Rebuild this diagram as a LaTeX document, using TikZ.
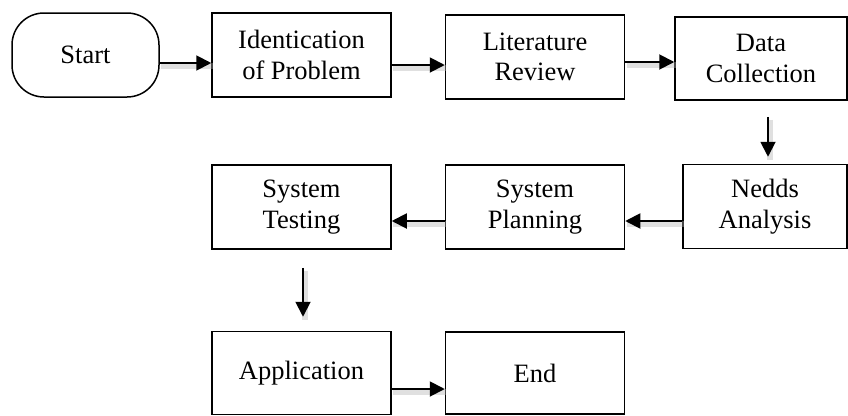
\documentclass[tikz,border=0pt]{standalone}
\usepackage{fontspec}
\setmainfont{Liberation Serif}
\usetikzlibrary{arrows.meta}
\begin{document}
\begin{tikzpicture}[x=1pt,y=-1pt,
  box/.style={draw=black, line width=1.5pt, fill=white, minimum width=179pt, minimum height=84pt,
    align=center, inner sep=0pt, font=\fontsize{26.5}{30.5}\selectfont},
  term/.style={box, rounded corners=32pt, minimum width=147pt},
  conn/.style={line width=1.9pt, -{Triangle[length=15pt,width=15pt]},
    preaction={draw=black!30, opacity=0.4, line width=6pt, -, transform canvas={shift={(1.5pt,-3pt)}}}},
]
\useasboundingbox (0,0) rectangle (848,415);
\node[term] (start) at (85.5,55) {Start};
\node[box] (ident) at (301.5,55) {Identication\\of Problem};
\node[box] (lit) at (535,57) {Literature\\Review};
\node[box, minimum width=172pt, minimum height=83pt] (data) at (761,58.5) {Data\\Collection};
\node[box, minimum width=164pt] (needs) at (765,206.5) {Nedds\\Analysis};
\node[box] (plan) at (535,207) {System\\Planning};
\node[box] (test) at (301.5,207) {System\\Testing};
\node[box, minimum height=83pt] (app) at (301.5,373) {Application};
\node[box, minimum height=82pt] (end) at (535,373) {End};

\draw[conn] ([yshift=-8pt]start.east) -- ([yshift=-8pt]start.east -| ident.west);
\draw[conn] ([yshift=-10pt]ident.east) -- ([yshift=-10pt]ident.east -| lit.west);
\draw[conn] ([yshift=-5pt]lit.east) -- ([yshift=-5pt]lit.east -| data.west);
\draw[conn, shorten <=16pt, shorten >=7pt] ([xshift=7pt]data.south) -- ([xshift=7pt]data.south |- needs.north);
\draw[conn] ([yshift=-14.5pt]needs.west) -- ([yshift=-14.5pt]needs.west -| plan.east);
\draw[conn] ([yshift=-14pt]plan.west) -- ([yshift=-14pt]plan.west -| test.east);
\draw[conn, shorten <=18pt, shorten >=14pt] ([xshift=1.5pt]test.south) -- ([xshift=1.5pt]test.south |- app.north);
\draw[conn] ([yshift=-16pt]app.east) -- ([yshift=-16pt]app.east -| end.west);
\end{tikzpicture}
\end{document}
